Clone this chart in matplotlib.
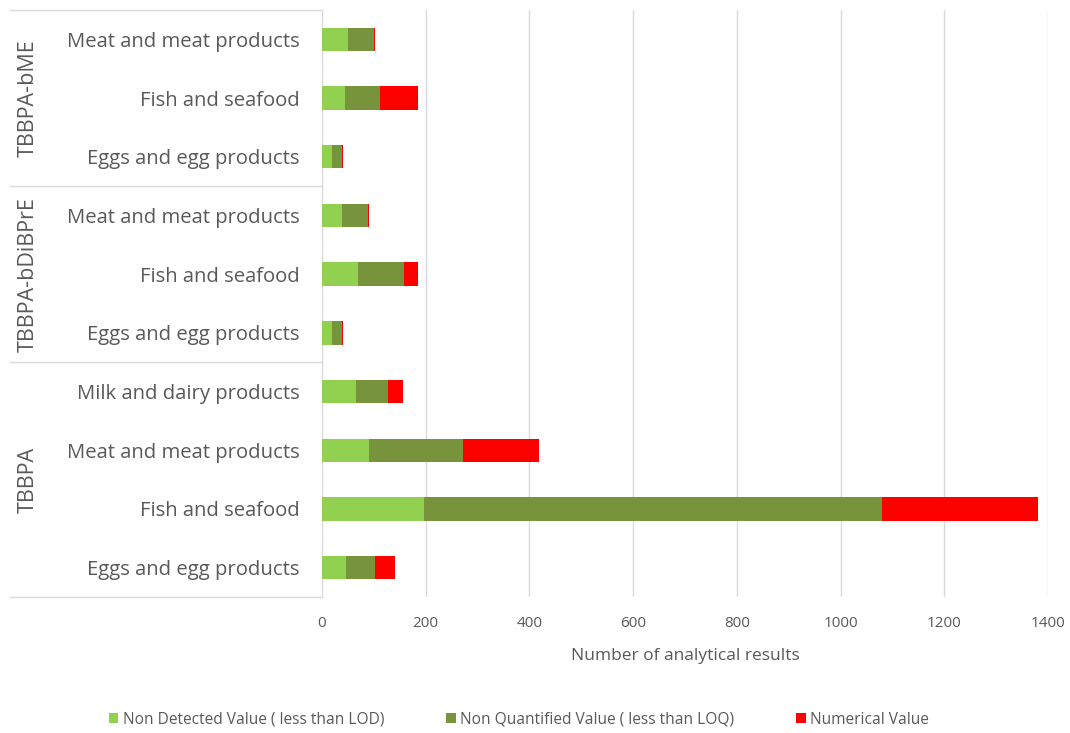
import matplotlib.pyplot as plt
import numpy as np

# categorias (de abajo hacia arriba)
categorias = ["Eggs and egg products", "Fish and seafood", "Meat and meat products",
              "Milk and dairy products",
              "Eggs and egg products", "Fish and seafood", "Meat and meat products",
              "Eggs and egg products", "Fish and seafood", "Meat and meat products"]
grupos = ["TBBPA", "TBBPA-bDiBPrE", "TBBPA-bME"]
tam_grupos = [4, 3, 3]

no_detectado = [47, 196, 91, 66, 19, 70, 39, 19, 44, 51]
no_cuantificado = [56, 884, 180, 62, 20, 89, 49, 20, 68, 49]
numerico = [37, 300, 147, 28, 2, 27, 3, 2, 74, 3]

series = ["Non Detected Value ( less than LOD)", "Non Quantified Value ( less than LOQ)", "Numerical Value"]
colores = ["#92D050", "#77933C", "#FF0000"]
xticks = [0, 200, 400, 600, 800, 1000, 1200, 1400]

gris = "#595959"
fig = plt.figure(figsize=(10.7, 7.33), dpi=100)
ax = fig.add_axes([322 / 1070, 1 - 597 / 733, 726 / 1070, 587 / 733])

y = np.arange(len(categorias))
izq = np.zeros(len(categorias))
for vals, nombre, col in zip([no_detectado, no_cuantificado, numerico], series, colores):
    ax.barh(y, vals, left=izq, height=0.4, color=col, label=nombre, zorder=3)
    izq = izq + np.array(vals)

ax.set_xlim(0, 1400)
ax.set_ylim(-0.5, len(categorias) - 0.5)
ax.set_xticks(xticks)
ax.set_xticklabels([str(t) for t in xticks], fontsize=11, color=gris, family="Open Sans")
ax.set_yticks(y)
ax.set_yticklabels(categorias, fontsize=14.6, color=gris, family="Open Sans")
ax.tick_params(axis="x", length=0, pad=14)
ax.tick_params(axis="y", length=0, pad=16)
ax.grid(axis="x", color="#D9D9D9", linewidth=1, zorder=0)
for s in ["top", "right", "bottom"]:
    ax.spines[s].set_visible(False)
ax.spines["left"].set_color("#D9D9D9")

ax.set_xlabel("Number of analytical results", fontsize=12.5, color=gris, family="Open Sans", labelpad=12)

# lineas y nombres de los grupos
inicio = -0.5
x0 = (10 - 322) / 726
ax.plot([x0, 0], [inicio, inicio], transform=ax.get_yaxis_transform(), color="#D9D9D9",
        lw=1, clip_on=False)
for g, n in zip(grupos, tam_grupos):
    fin = inicio + n
    ax.plot([x0, 0], [fin, fin], transform=ax.get_yaxis_transform(), color="#D9D9D9",
            lw=1, clip_on=False)
    ax.text((28 - 322) / 726, (inicio + fin) / 2, g, transform=ax.get_yaxis_transform(),
            rotation=90, ha="center", va="center", fontsize=15.5, color=gris, family="Open Sans")
    inicio = fin

fig.legend(loc="lower center", bbox_to_anchor=(0.485, -0.012), ncol=3, frameon=False,
           handlelength=0.6, handleheight=0.6, handletextpad=0.3, columnspacing=4.0,
           prop={"family": "Open Sans", "size": 11.2}, labelcolor=gris)

plt.savefig("out.png", dpi=100)
